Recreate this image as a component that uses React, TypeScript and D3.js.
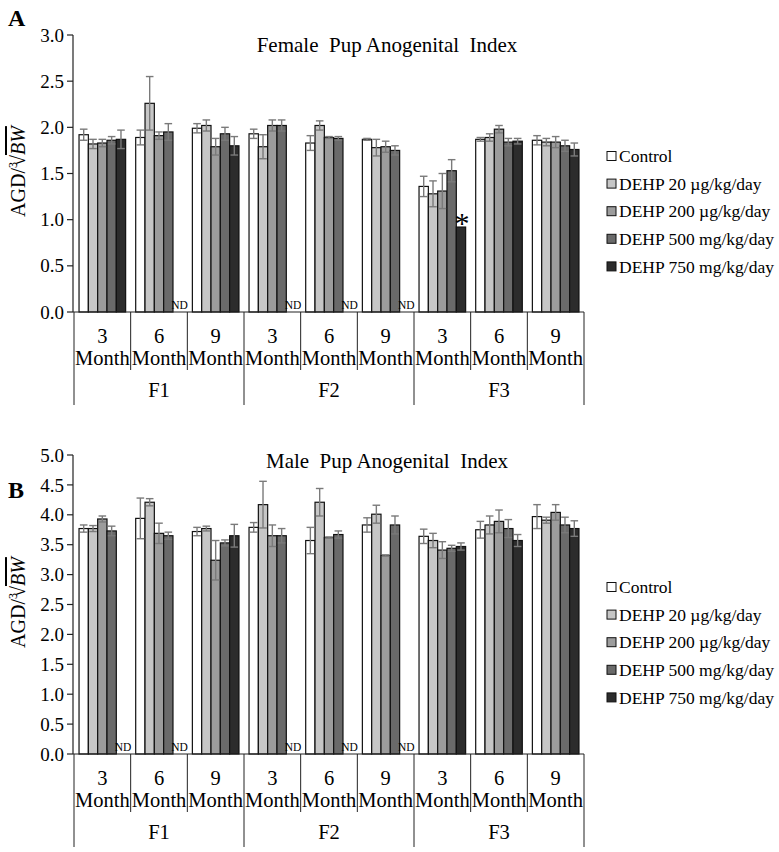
import React from "react";
import * as d3 from "d3";

const months = ["3", "6", "9"];
const generations = ["F1", "F2", "F3"];
const seriesNames = [
  "Control",
  "DEHP 20 \u00b5g/kg/day",
  "DEHP 200 \u00b5g/kg/day",
  "DEHP 500 mg/kg/day",
  "DEHP 750 mg/kg/day",
];
const seriesColors = ["#ffffff", "#c6c6c6", "#9c9c9c", "#6a6a6a", "#2c2c2c"];

// Female (panel A), 9 categories: F1-3,6,9 ; F2-3,6,9 ; F3-3,6,9
const femaleControl = [1.92, 1.89, 1.99, 1.93, 1.83, 1.87, 1.36, 1.87, 1.86];
const femaleD20 = [1.82, 2.26, 2.02, 1.79, 2.02, 1.78, 1.28, 1.89, 1.84];
const femaleD200 = [1.83, 1.91, 1.79, 2.02, 1.89, 1.79, 1.31, 1.98, 1.84];
const femaleD500 = [1.86, 1.95, 1.93, 2.02, 1.88, 1.75, 1.53, 1.84, 1.8];
const femaleD750 = [1.87, null, 1.8, null, null, null, 0.92, 1.85, 1.76];
const femaleControlErr = [0.06, 0.08, 0.05, 0.05, 0.08, 0.01, 0.11, 0.02, 0.05];
const femaleD20Err = [0.05, 0.29, 0.06, 0.13, 0.05, 0.09, 0.14, 0.04, 0.04];
const femaleD200Err = [0.04, 0.04, 0.09, 0.06, 0.01, 0.06, 0.19, 0.04, 0.06];
const femaleD500Err = [0.04, 0.09, 0.07, 0.06, 0.02, 0.05, 0.12, 0.04, 0.06];
const femaleD750Err = [0.1, 0, 0.1, 0, 0, 0, 0.0, 0.03, 0.07];

// Male (panel B)
const maleControl = [3.77, 3.94, 3.72, 3.79, 3.57, 3.83, 3.64, 3.75, 3.97];
const maleD20 = [3.77, 4.21, 3.77, 4.17, 4.21, 4.01, 3.57, 3.83, 3.91];
const maleD200 = [3.93, 3.69, 3.24, 3.65, 3.62, 3.32, 3.41, 3.89, 4.04];
const maleD500 = [3.73, 3.65, 3.53, 3.65, 3.67, 3.83, 3.44, 3.77, 3.83];
const maleD750 = [null, null, 3.65, null, null, null, 3.47, 3.57, 3.77];
const maleControlErr = [0.06, 0.34, 0.07, 0.08, 0.22, 0.12, 0.12, 0.14, 0.2];
const maleD20Err = [0.05, 0.06, 0.04, 0.39, 0.23, 0.15, 0.12, 0.15, 0.05];
const maleD200Err = [0.05, 0.17, 0.33, 0.18, 0.01, 0.01, 0.14, 0.19, 0.13];
const maleD500Err = [0.08, 0.06, 0.05, 0.12, 0.06, 0.15, 0.05, 0.15, 0.13];
const maleD750Err = [0, 0, 0.19, 0, 0, 0, 0.06, 0.1, 0.13];

const femaleTicks = [0, 0.5, 1, 1.5, 2, 2.5, 3];
const maleTicks = [0, 0.5, 1, 1.5, 2, 2.5, 3, 3.5, 4, 4.5, 5];

const FONT = "Liberation Serif, Tinos, DejaVu Serif, Times New Roman, serif";

type PanelProps = {
  letter: string;
  letterY: number;
  title: string;
  titleY: number;
  means: (number | null)[][];
  errs: number[][];
  ticks: number[];
  yMax: number;
  yTop: number;
  yBottom: number;
  legendY: number;
  stars?: { cat: number; series: number }[];
};

function Panel(p: PanelProps) {
  const cats = d3.range(9);
  const x = d3.scaleBand<number>().domain(cats).range([74, 584]).paddingInner(0).paddingOuter(0);
  const xs = d3
    .scaleBand<number>()
    .domain(d3.range(5))
    .range([0, x.bandwidth()])
    .paddingInner(0)
    .paddingOuter(0.54);
  const y = d3.scaleLinear().domain([0, p.yMax]).range([p.yBottom, p.yTop]);
  const axisX = 73;
  const base = p.yBottom;
  const labelCenter = (p.yTop + p.yBottom) / 2 - 2;
  return (
    <g fontFamily={FONT}>
      <text x={8} y={p.letterY} fontWeight="bold" fontSize={24}>
        {p.letter}
      </text>
      <text x={387} y={p.titleY} textAnchor="middle" fontSize={21} style={{ whiteSpace: "pre" }}>
        {p.title}
      </text>
      {/* y label */}
      <text transform={`translate(25,${labelCenter}) rotate(-90)`} textAnchor="middle" fontSize={20}>
        <tspan>AGD/</tspan>
        <tspan fontSize={12} dy={-8}>3</tspan>
        <tspan dy={8} dx={-4}>{"\u221a"}</tspan>
        <tspan fontStyle="italic" textDecoration="overline">BW</tspan>
      </text>
      {/* bars */}
      {p.means.map((arr, s) =>
        arr.map((v, c) => {
          if (v === null) return null;
          const bx = (x(c) as number) + (xs(s) as number);
          const bw = xs.bandwidth();
          return (
            <rect
              key={`b${s}-${c}`}
              x={bx}
              y={y(v)}
              width={bw}
              height={base - y(v)}
              fill={seriesColors[s]}
              stroke="#111"
              strokeWidth={1.2}
            />
          );
        })
      )}
      {/* error bars */}
      {p.means.map((arr, s) =>
        arr.map((v, c) => {
          if (v === null) return null;
          const e = p.errs[s][c];
          if (!e) return null;
          const cx = (x(c) as number) + (xs(s) as number) + xs.bandwidth() / 2;
          const hw = 3.8;
          return (
            <g key={`e${s}-${c}`} stroke="#7a7a7a" strokeWidth={1.4}>
              <line x1={cx} x2={cx} y1={y(v - e)} y2={y(v + e)} />
              <line x1={cx - hw} x2={cx + hw} y1={y(v + e)} y2={y(v + e)} />
              <line x1={cx - hw} x2={cx + hw} y1={y(v - e)} y2={y(v - e)} />
            </g>
          );
        })
      )}
      {/* ND labels */}
      {p.means.map((arr, s) =>
        arr.map((v, c) => {
          if (v !== null) return null;
          const cx = (x(c) as number) + (xs(s) as number) + xs.bandwidth() / 2 + 2;
          return (
            <text key={`nd${s}-${c}`} x={cx} y={base - 3} textAnchor="middle" fontSize={11.5}>
              ND
            </text>
          );
        })
      )}
      {/* stars */}
      {(p.stars || []).map((st, i) => {
        const v = p.means[st.series][st.cat] as number;
        const cx = (x(st.cat) as number) + (xs(st.series) as number) + xs.bandwidth() / 2 + 1;
        return (
          <text key={`st${i}`} x={cx} y={y(v) + 6} textAnchor="middle" fontSize={30}>
            *
          </text>
        );
      })}
      {/* y axis */}
      <line x1={axisX} x2={axisX} y1={y(p.yMax)} y2={base} stroke="#222" strokeWidth={1.2} />
      {p.ticks.map((t) => (
        <g key={`t${t}`}>
          <line x1={axisX - 6} x2={axisX} y1={y(t)} y2={y(t)} stroke="#222" strokeWidth={1.2} />
          <text x={axisX - 9} y={y(t)} dy="0.35em" textAnchor="end" fontSize={19}>
            {t.toFixed(1)}
          </text>
        </g>
      ))}
      {/* x axis */}
      <line x1={axisX} x2={584} y1={base} y2={base} stroke="#222" strokeWidth={1.2} />
      {d3.range(10).map((i) => {
        const xx = i < 9 ? (x(i) as number) : x.range()[1];
        const outer = i % 3 === 0;
        return (
          <line
            key={`d${i}`}
            x1={xx}
            x2={xx}
            y1={base}
            y2={base + (outer ? 93 : 58)}
            stroke="#222"
            strokeWidth={1}
          />
        );
      })}
      {cats.map((c) => {
        const cx = (x(c) as number) + x.bandwidth() / 2;
        return (
          <g key={`cl${c}`}>
            <text x={cx} y={base + 24} dy="0.35em" textAnchor="middle" fontSize={20.5}>
              {months[c % 3]}
            </text>
            <text x={cx} y={base + 46} dy="0.35em" textAnchor="middle" fontSize={20.5}>
              Month
            </text>
          </g>
        );
      })}
      {generations.map((g, i) => {
        const x0 = x(i * 3) as number;
        const x1 = i < 2 ? (x(i * 3 + 3) as number) : x.range()[1];
        return (
          <text key={`g${g}`} x={(x0 + x1) / 2} y={base + 78} dy="0.35em" textAnchor="middle" fontSize={20.5}>
            {g}
          </text>
        );
      })}
      {/* legend */}
      {seriesNames.map((n, i) => {
        const ly = p.legendY + i * 27.6;
        return (
          <g key={`lg${i}`}>
            <rect x={607} y={ly - 4.5} width={9} height={9} fill={seriesColors[i]} stroke="#111" strokeWidth={1} />
            <text x={619} y={ly} dy="0.35em" fontSize={17.5}>
              {n}
            </text>
          </g>
        );
      })}
    </g>
  );
}

export default function App() {
  return (
    <svg width={779} height={852} style={{ position: "absolute", left: 0, top: 0, background: "#fff" }}>
      <Panel
        letter="A"
        letterY={26}
        title={"Female  Pup Anogenital  Index"}
        titleY={52}
        means={[femaleControl, femaleD20, femaleD200, femaleD500, femaleD750]}
        errs={[femaleControlErr, femaleD20Err, femaleD200Err, femaleD500Err, femaleD750Err]}
        ticks={femaleTicks}
        yMax={3}
        yTop={35}
        yBottom={312}
        legendY={156}
        stars={[{ cat: 6, series: 4 }]}
      />
      <Panel
        letter="B"
        letterY={498}
        title={"Male  Pup Anogenital  Index"}
        titleY={468}
        means={[maleControl, maleD20, maleD200, maleD500, maleD750]}
        errs={[maleControlErr, maleD20Err, maleD200Err, maleD500Err, maleD750Err]}
        ticks={maleTicks}
        yMax={5}
        yTop={455}
        yBottom={754}
        legendY={587}
      />
    </svg>
  );
}
